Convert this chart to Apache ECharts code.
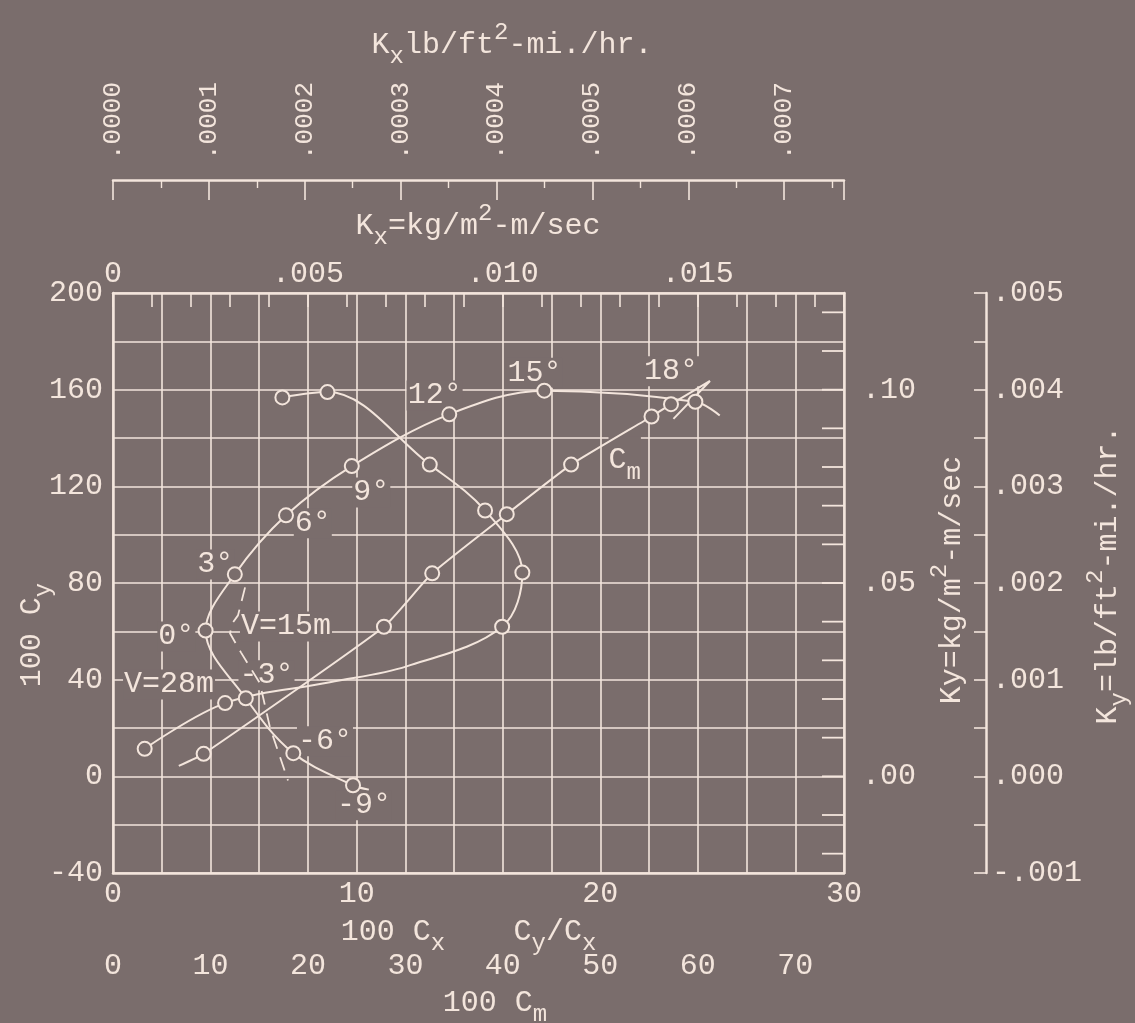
<!DOCTYPE html>
<html><head><meta charset="utf-8">
<script src="https://cdn.jsdelivr.net/npm/echarts@6/dist/echarts.min.js"></script>
<style>html,body{margin:0;padding:0;background:#7a6d6c;}#c{width:1135px;height:1023px;}</style>
</head><body><div id="c"></div>
<script>
// ---- data ----
// Polar curve: 100Cy vs 100Cx (angle of attack marks), ends without marker
const polarAngles = ['', '-9°', '-6°', '-3°', '0°', '3°', '6°', '9°', '12°', '15°', '18°', ''];
const polarCx = [10.5, 9.85, 7.4, 5.45, 3.8, 5.0, 7.1, 9.8, 13.8, 17.7, 23.9, 24.9];
const polarCy = [-5.5, -3.7, 9.6, 32.3, 60.3, 83.6, 108, 128.4, 149.8, 159.6, 155, 149.3];
const polarMarked = [0, 1, 1, 1, 1, 1, 1, 1, 1, 1, 1, 0];
// Cy/Cx curve (read on the 0-30 scale)
const ldRatio = [1.3, 4.6, 8.9, 12.05, 15.97, 16.8, 15.27, 13.0, 8.8, 6.95];
const ldCy = [11.4, 30.3, 38.9, 45.5, 61.9, 84.3, 110, 129, 159, 156.8];
const ldMarked = [1, 1, 0, 0, 1, 1, 1, 1, 1, 1];
// Moment curve, 100Cm (0-70 scale)
const cm100 = [6.75, 9.3, 27.8, 32.75, 40.4, 47.0, 55.25, 57.25, 61.25, 57.5];
const cmCy = [4.3, 9.3, 61.9, 84, 108.5, 129, 148.9, 154, 163.6, 147.9];
const cmMarked = [0, 1, 1, 1, 1, 1, 1, 1, 0, 0];
// speed line V=15m
const vCx = [5.42, 5.13, 4.92, 4.80, 5.25, 6.03, 6.44, 7.18];
const vCy = [78.2, 66.6, 63.7, 59.2, 51.3, 38.5, 20.3, -1.7];
// annotations
const annText = ['12°', '15°', '18°', '9°', '6°', '3°', '0°', '-3°', '-6°', '-9°', 'V=15m', 'V=28m'];
const annCx = [13.2, 17.3, 22.9, 10.6, 8.2, 4.2, 2.6, 6.3, 8.7, 10.3, 7.1, 2.3];
const annCy = [157.6, 167, 167.6, 117.5, 104.7, 87.7, 57.9, 41.8, 14.5, -12, 62, 38];
// axis ticks
const kyKgTicks = [-0.02, -0.01, 0, 0.01, 0.02, 0.03, 0.04, 0.05, 0.06, 0.07, 0.08, 0.09, 0.10, 0.11, 0.12];
const cxPerKxLb = 3.935 / 0.0001; // 100Cx units per Kx lb unit

const FG = '#f3e5dc', BG = '#7a6d6c';
const FONT = '"Liberation Mono","DejaVu Sans Mono",monospace';
const FS = 30;
function richSet(fs) {
  const b = {fontFamily: FONT, fill: FG, color: FG, lineHeight: fs * 1.6, textBorderWidth: 0};
  return {
    n: Object.assign({}, b, {fontSize: fs, verticalAlign: 'middle'}),
    sub: Object.assign({}, b, {fontSize: fs * 0.8, verticalAlign: 'bottom'}),
    sup: Object.assign({}, b, {fontSize: fs * 0.8, verticalAlign: 'top'})
  };
}
const lab = {color: FG, fontFamily: FONT, fontSize: FS};
const axLine = {show: true, onZero: false, lineStyle: {color: FG, width: 2.5}};
const mk = (xs, ys, flags) => xs.map((x, i) => ({value: [x, ys[i]], symbol: flags[i] ? 'circle' : 'none'}));
const curveStyle = {
  type: 'line', symbolSize: 14, z: 5,
  lineStyle: {color: FG, width: 2},
  itemStyle: {color: BG, borderColor: FG, borderWidth: 2}
};

const chart = echarts.init(document.getElementById('c'), null, {renderer: 'canvas'});
chart.setOption({
  backgroundColor: BG,
  animation: false,
  grid: {left: 113, top: 293, width: 731, height: 580, show: false},
  xAxis: [
    {type: 'value', position: 'bottom', min: 0, max: 30, interval: 2,
     axisLine: axLine, axisTick: {show: false},
     splitLine: {show: true, lineStyle: {color: FG, width: 1.6}},
     axisLabel: Object.assign({}, lab, {margin: 6, formatter: v => v % 10 === 0 ? String(v) : ''})},
    {type: 'value', position: 'top', min: 0, max: 30 / 1600, interval: 0.001,
     axisLine: axLine, axisTick: {show: true, inside: true, length: 14, lineStyle: {color: FG, width: 1.6}},
     splitLine: {show: false},
     axisLabel: Object.assign({}, lab, {margin: 4, formatter: v => {
       const r = Math.round(v * 1000);
       if (Math.abs(v * 1000 - r) > 1e-6 || r % 5) return '';
       return r === 0 ? '0' : '.' + String(r).padStart(3, '0');
     }})},
    {type: 'value', position: 'top', offset: 113, min: 0, max: 30 / cxPerKxLb, interval: 0.0001,
     axisLine: axLine,
     axisTick: {show: true, inside: true, length: 20, lineStyle: {color: FG, width: 1.6}},
     minorTick: {show: true, splitNumber: 2, length: 8, lineStyle: {color: FG, width: 1.4}},
     splitLine: {show: false},
     axisLabel: Object.assign({}, lab, {fontSize: 26, rotate: -90, margin: 20, formatter: v => {
       const r = Math.round(v * 10000);
       if (Math.abs(v * 10000 - r) > 1e-6) return '';
       return '.' + String(r).padStart(4, '0');
     }})},
    {type: 'value', position: 'bottom', offset: 72, min: 0, max: 75, interval: 10,
     axisLine: {show: false, onZero: false}, axisTick: {show: false}, splitLine: {show: false},
     axisLabel: Object.assign({}, lab, {margin: 6, formatter: v => v <= 70 ? String(v) : ''})}
  ],
  yAxis: [
    {type: 'value', position: 'left', min: -40, max: 200, interval: 20,
     axisLine: axLine, axisTick: {show: false},
     splitLine: {show: true, lineStyle: {color: FG, width: 1.6}},
     axisLabel: Object.assign({}, lab, {margin: 10, formatter: v => v % 40 === 0 ? String(v) : ''})},
    {type: 'value', position: 'right', min: -0.025, max: 0.125, interval: 0.025,
     axisLine: axLine, axisTick: {show: false}, splitLine: {show: false},
     axisLabel: Object.assign({}, lab, {margin: 18, formatter: v => {
       const r = Math.round(v * 1000);
       if (r < 0 || r % 50) return '';
       return '.' + String(r / 10).padStart(2, '0');
     }})},
    {type: 'value', position: 'right', offset: 142, min: -0.001, max: 0.005, interval: 0.0005,
     axisLine: axLine,
     axisTick: {show: true, inside: true, length: 12, lineStyle: {color: FG, width: 1.6}},
     splitLine: {show: false},
     axisLabel: Object.assign({}, lab, {margin: 6, formatter: v => {
       const r = Math.round(v * 10000);
       if (r % 10) return '';
       const k = r / 10;
       return (k < 0 ? '-' : '') + '.00' + Math.abs(k);
     }})}
  ],
  graphic: [
    {type: 'text', x: 32, y: 635, rotation: Math.PI / 2, z: 10,
     style: {text: '{n|100 C}{sub|y}', rich: richSet(FS), align: 'center', verticalAlign: 'middle'}},
    {type: 'text', x: 952, y: 580, rotation: Math.PI / 2, z: 10,
     style: {text: '{n|Ky=kg/m}{sup|2}{n|-m/sec}', rich: richSet(FS), align: 'center', verticalAlign: 'middle'}},
    {type: 'text', x: 1108, y: 575, rotation: Math.PI / 2, z: 10,
     style: {text: '{n|K}{sub|y}{n|=lb/ft}{sup|2}{n|-mi./hr.}', rich: richSet(FS), align: 'center', verticalAlign: 'middle'}},
    {type: 'text', x: 512, y: 45, z: 10,
     style: {text: '{n|K}{sub|x}{n|lb/ft}{sup|2}{n|-mi./hr.}', rich: richSet(FS), align: 'center', verticalAlign: 'middle'}},
    {type: 'text', x: 478, y: 226, z: 10,
     style: {text: '{n|K}{sub|x}{n|=kg/m}{sup|2}{n|-m/sec}', rich: richSet(FS), align: 'center', verticalAlign: 'middle'}},
    {type: 'text', x: 393, y: 932, z: 10,
     style: {text: '{n|100 C}{sub|x}', rich: richSet(FS), align: 'center', verticalAlign: 'middle'}},
    {type: 'text', x: 555, y: 932, z: 10,
     style: {text: '{n|C}{sub|y}{n|/C}{sub|x}', rich: richSet(FS), align: 'center', verticalAlign: 'middle'}},
    {type: 'text', x: 495, y: 1003, z: 10,
     style: {text: '{n|100 C}{sub|m}', rich: richSet(FS), align: 'center', verticalAlign: 'middle'}}
  ],
  series: [
    Object.assign({}, curveStyle, {name: 'Cx', xAxisIndex: 0, yAxisIndex: 0, smooth: 0.35,
      data: mk(polarCx, polarCy, polarMarked)}),
    Object.assign({}, curveStyle, {name: 'Cy/Cx', xAxisIndex: 0, yAxisIndex: 0, smooth: 0.35,
      data: mk(ldRatio, ldCy, ldMarked)}),
    Object.assign({}, curveStyle, {name: 'Cm', xAxisIndex: 3, yAxisIndex: 0, smooth: 0.15,
      data: mk(cm100, cmCy, cmMarked)}),
    {type: 'line', name: 'V=15m', xAxisIndex: 0, yAxisIndex: 0, symbol: 'none', z: 4,
     lineStyle: {color: FG, width: 1.8, type: [14, 9]},
     data: vCx.map((x, i) => [x, vCy[i]])},
    {type: 'scatter', name: 'labels', xAxisIndex: 0, yAxisIndex: 0, symbolSize: 0, z: 3, silent: true,
     itemStyle: {color: BG, opacity: 0},
     label: {show: true, position: 'inside', formatter: '{b}', color: FG, fontFamily: FONT, fontSize: FS,
             textBorderWidth: 0, textShadowBlur: 0, opacity: 1,
             backgroundColor: BG, padding: [0, 1]},
     data: annText.map((t, i) => ({name: t, value: [annCx[i], annCy[i]]}))},
    {type: 'scatter', name: 'Cm label', xAxisIndex: 0, yAxisIndex: 0, symbolSize: 0, z: 3, silent: true,
     itemStyle: {color: BG, opacity: 0},
     label: {show: true, position: 'inside', formatter: '{n|C}{sub|m}', rich: richSet(FS),
             textBorderWidth: 0, opacity: 1, backgroundColor: BG},
     data: [[21.0, 130.7]]},
    {type: 'custom', name: 'Ky ticks', xAxisIndex: 0, yAxisIndex: 1, z: 2, silent: true,
     data: kyKgTicks.map(t => [30, t]),
     renderItem: (params, api) => {
       const p = api.coord([api.value(0), api.value(1)]);
       return {type: 'line', shape: {x1: p[0] - 22, y1: p[1], x2: p[0], y2: p[1]},
               style: {stroke: FG, lineWidth: 1.8}};
     }}
  ]
});
</script></body></html>
